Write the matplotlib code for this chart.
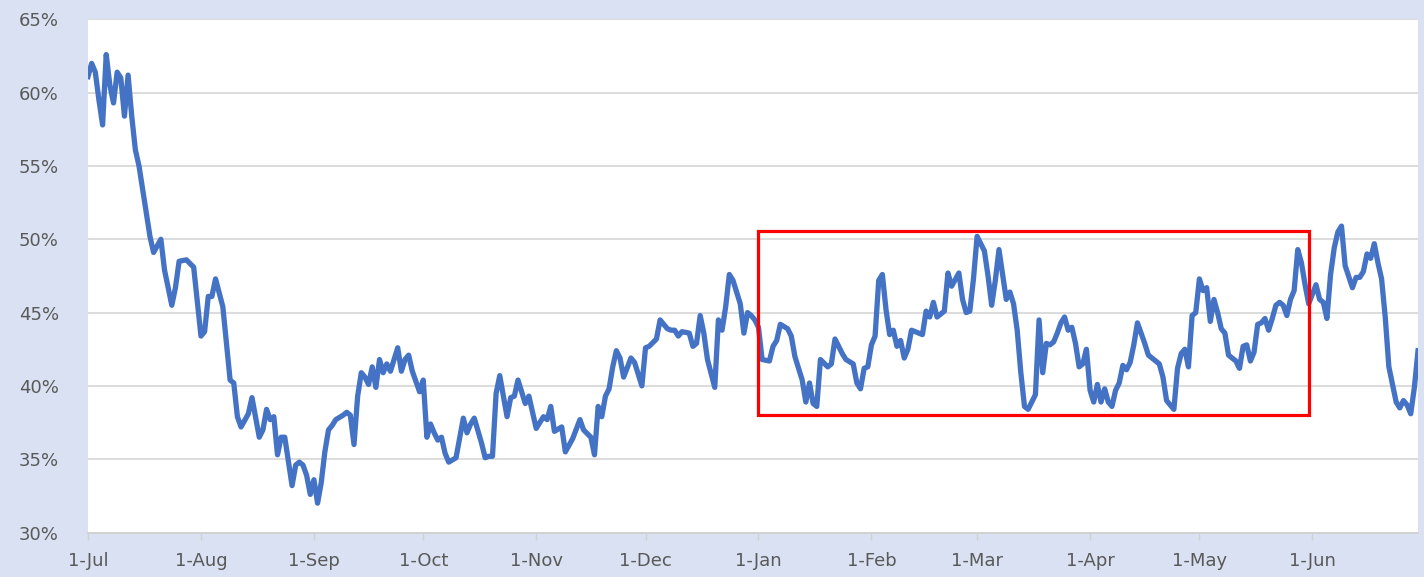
import numpy as np
import pandas as pd
import matplotlib
matplotlib.use("Agg")
import matplotlib.pyplot as plt
import matplotlib.dates as mdates
from matplotlib.patches import Rectangle
from matplotlib.ticker import FuncFormatter, MultipleLocator

# days since 1-Jul and the value (%)
start = pd.Timestamp("2019-07-01")
day = [0, 1, 2, 3, 4, 5, 6, 7, 8, 9, 10, 11, 12, 13, 14, 16, 17, 18, 20, 21,
       23, 24, 25, 27, 29, 31, 32, 33, 34, 35, 37, 38, 39, 40, 41, 42, 44, 45, 47, 48,
       49, 50, 51, 52, 53, 54, 56, 57, 58, 59, 60, 61, 62, 63, 64, 65, 66, 67, 68, 70,
       71, 72, 73, 74, 75, 76, 77, 78, 79, 80, 81, 82, 83, 84, 85, 86, 87, 88, 89, 91,
       92, 93, 94, 95, 96, 97, 98, 99, 101, 103, 104, 105, 106, 108, 109, 110, 111, 112, 113, 115,
       116, 117, 118, 120, 121, 123, 125, 126, 127, 128, 130, 131, 133, 135, 136, 138, 139, 140, 141, 142,
       143, 144, 145, 146, 147, 149, 150, 152, 153, 154, 156, 157, 159, 160, 161, 162, 163, 165, 166, 167,
       168, 169, 170, 172, 173, 174, 175, 176, 177, 179, 180, 181, 182, 183, 184, 185, 187, 188, 189, 190,
       192, 193, 194, 196, 197, 198, 199, 200, 201, 203, 204, 205, 207, 208, 210, 211, 212, 213, 214, 215,
       216, 217, 218, 219, 220, 221, 222, 223, 224, 225, 226, 228, 229, 230, 231, 232, 233, 235, 236, 237,
       239, 240, 241, 242, 243, 244, 246, 247, 248, 249, 250, 252, 253, 254, 255, 256, 257, 258, 259, 260,
       261, 262, 263, 264, 265, 266, 267, 268, 269, 270, 271, 272, 273, 274, 275, 276, 277, 278, 279, 280,
       281, 282, 283, 284, 285, 286, 287, 288, 289, 290, 291, 292, 294, 295, 296, 297, 298, 299, 300, 301,
       302, 303, 304, 305, 306, 307, 308, 309, 310, 311, 312, 313, 315, 316, 317, 318, 319, 320, 321, 322,
       323, 324, 325, 326, 327, 328, 329, 330, 331, 332, 333, 334, 335, 337, 338, 339, 340, 341, 342, 343,
       344, 345, 347, 348, 349, 350, 351, 352, 353, 354, 355, 356, 357, 359, 360, 361, 362, 363, 364, 365]
pct = [61.1, 62.0, 61.4, 59.5, 57.8, 62.6, 60.5, 59.3, 61.4, 61.0, 58.4, 61.2, 58.4, 56.1, 55.0, 51.8, 50.2, 49.1, 50.0, 47.9,
       45.5, 46.7, 48.5, 48.6, 48.1, 43.4, 43.7, 46.1, 46.1, 47.3, 45.4, 42.9, 40.4, 40.2, 37.9, 37.2, 38.1, 39.2, 36.5, 37.0,
       38.4, 37.7, 37.9, 35.3, 36.5, 36.5, 33.2, 34.6, 34.8, 34.6, 33.9, 32.6, 33.6, 32.0, 33.4, 35.5, 37.0, 37.3, 37.7, 38.0,
       38.2, 38.0, 36.0, 39.3, 40.9, 40.6, 40.1, 41.3, 39.9, 41.8, 40.9, 41.5, 41.0, 41.8, 42.6, 41.0, 41.8, 42.1, 41.0, 39.6,
       40.4, 36.5, 37.4, 36.8, 36.3, 36.5, 35.4, 34.8, 35.1, 37.8, 36.8, 37.4, 37.8, 36.1, 35.1, 35.2, 35.2, 39.5, 40.7, 37.9,
       39.2, 39.3, 40.4, 38.8, 39.3, 37.1, 37.9, 37.7, 38.6, 36.9, 37.2, 35.5, 36.4, 37.7, 37.0, 36.5, 35.3, 38.6, 37.9, 39.3,
       39.8, 41.3, 42.4, 41.9, 40.6, 41.9, 41.6, 40.0, 42.6, 42.7, 43.2, 44.5, 43.9, 43.8, 43.8, 43.4, 43.7, 43.6, 42.7, 42.9,
       44.8, 43.6, 41.8, 39.9, 44.5, 43.8, 45.4, 47.6, 47.2, 45.6, 43.6, 45.0, 44.8, 44.5, 44.0, 41.8, 41.7, 42.7, 43.1, 44.2,
       43.9, 43.4, 42.0, 40.4, 38.9, 40.2, 38.8, 38.6, 41.8, 41.3, 41.5, 43.2, 42.2, 41.8, 41.5, 40.2, 39.8, 41.2, 41.3, 42.8,
       43.4, 47.2, 47.6, 45.2, 43.5, 43.8, 42.7, 43.1, 41.9, 42.5, 43.8, 43.6, 43.5, 45.1, 44.7, 45.7, 44.7, 45.1, 47.7, 46.8,
       47.7, 45.9, 45.0, 45.1, 47.3, 50.2, 49.2, 47.5, 45.5, 47.2, 49.3, 45.9, 46.4, 45.6, 43.8, 40.9, 38.6, 38.4, 38.9, 39.4,
       44.5, 40.9, 42.9, 42.8, 43.0, 43.6, 44.3, 44.7, 43.8, 44.0, 42.9, 41.3, 41.5, 42.5, 39.7, 38.9, 40.1, 38.9, 39.8, 38.9,
       38.6, 39.7, 40.2, 41.4, 41.1, 41.6, 42.8, 44.3, 43.6, 42.9, 42.1, 41.9, 41.5, 40.6, 39.0, 38.7, 38.4, 41.2, 42.2, 42.5,
       41.3, 44.8, 45.0, 47.3, 46.5, 46.7, 44.4, 45.9, 45.0, 43.9, 43.6, 42.1, 41.7, 41.2, 42.7, 42.8, 41.7, 42.3, 44.2, 44.3,
       44.6, 43.8, 44.6, 45.5, 45.7, 45.5, 44.8, 45.9, 46.5, 49.3, 48.4, 46.9, 45.6, 46.9, 45.9, 45.7, 44.6, 47.6, 49.4, 50.5,
       50.9, 48.2, 46.7, 47.4, 47.4, 47.8, 49.0, 48.7, 49.7, 48.4, 47.3, 44.7, 41.3, 38.9, 38.5, 39.0, 38.7, 38.1, 39.9, 42.4]

# highlighted window
box_start, box_end = "2020-01-01", "2020-05-31"
box_low, box_high = 38.0, 50.6

dates = start + pd.to_timedelta(day, unit="D")
vals = np.array(pct) / 100

bg = "#D9E1F2"
fig = plt.figure(figsize=(14.24, 5.77), dpi=100, facecolor=bg)
ax = fig.add_axes([0.0618, 0.0771, 0.934, 0.8893])
ax.set_facecolor("white")

ax.plot(dates, vals, color="#4472C4", lw=3.8, solid_joinstyle="round", zorder=3)

x0 = mdates.date2num(pd.Timestamp(box_start))
x1 = mdates.date2num(pd.Timestamp(box_end))
ax.add_patch(Rectangle((x0, box_low / 100), x1 - x0, (box_high - box_low) / 100,
                       fill=False, edgecolor="#FF0000", lw=2.3, zorder=4))

ax.set_ylim(0.30, 0.65)
ax.set_xlim(pd.Timestamp("2019-07-01"), pd.Timestamp("2020-06-30"))
ax.yaxis.set_major_locator(MultipleLocator(0.05))
ax.yaxis.set_major_formatter(FuncFormatter(lambda v, p: f"{v*100:.0f}%"))
ax.xaxis.set_major_locator(mdates.MonthLocator(bymonthday=1))
ax.xaxis.set_major_formatter(FuncFormatter(lambda v, p: "1-" + mdates.num2date(v).strftime("%b")))

ax.grid(axis="y", color="#D9D9D9", lw=1.3, zorder=0)
for s in ["top", "right", "left"]:
    ax.spines[s].set_visible(False)
ax.spines["bottom"].set_color("#D0D0D0")
ax.spines["bottom"].set_linewidth(1.3)

ax.tick_params(axis="y", length=0, pad=21, labelsize=13, labelcolor="#595959")
ax.tick_params(axis="x", length=5, width=1, color="#D0D0D0", pad=9,
               labelsize=13, labelcolor="#595959")

fig.savefig("out.png", dpi=100, facecolor=bg)
